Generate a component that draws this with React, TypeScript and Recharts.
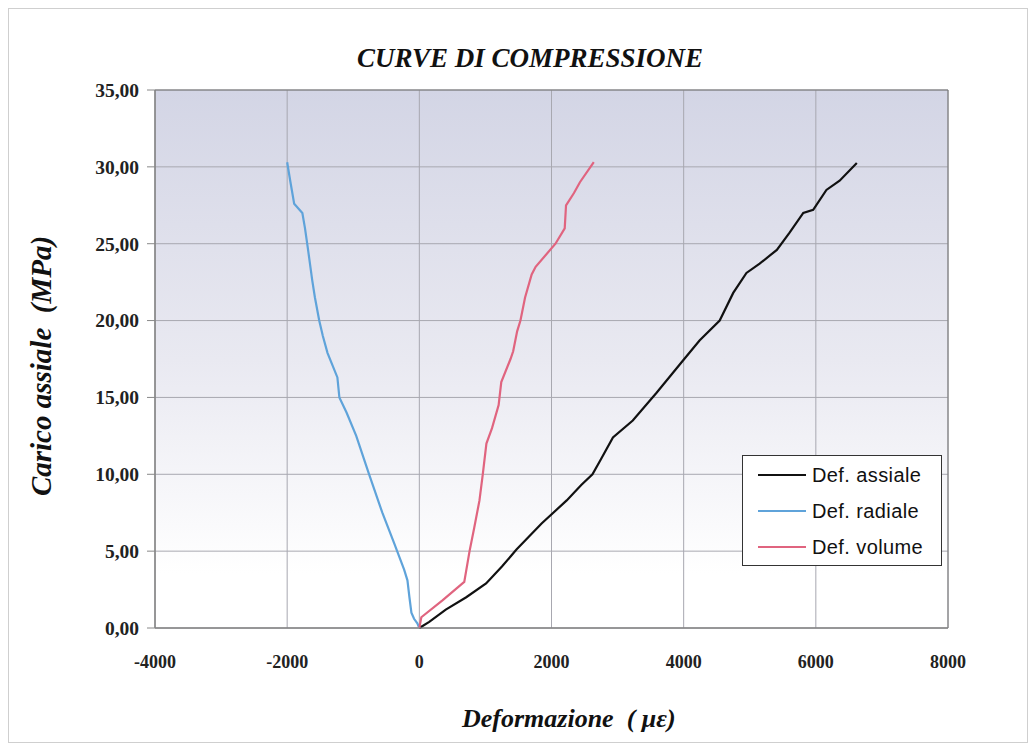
import React from 'react';
import { LineChart, Line, XAxis, YAxis, CartesianGrid, ReferenceArea } from 'recharts';

const axialStrain = [0, 150, 400, 710, 1010, 1250, 1470, 1850, 2230, 2450, 2620, 2750, 2930, 3230, 3590, 3990, 4240, 4545, 4750, 4950, 5150, 5410, 5600, 5810, 5960, 6160, 6360, 6620];
const axialLoad = [0, 0.4, 1.2, 2.0, 2.9, 4.0, 5.1, 6.8, 8.3, 9.3, 10.0, 11.0, 12.4, 13.5, 15.3, 17.4, 18.7, 20.0, 21.8, 23.1, 23.7, 24.6, 25.7, 27.0, 27.2, 28.5, 29.1, 30.25];

const radialStrain = [0, -30, -80, -120, -150, -180, -230, -300, -380, -560, -760, -955, -1100, -1210, -1240, -1390, -1460, -1515, -1580, -1620, -1690, -1730, -1770, -1894, -1950, -2000];
const radialLoad = [0, 0.3, 0.6, 1.0, 2.0, 3.1, 3.8, 4.6, 5.5, 7.5, 10.0, 12.5, 14.0, 15.0, 16.3, 17.9, 19.0, 20.0, 21.5, 22.6, 24.8, 26.0, 27.0, 27.6, 29.0, 30.3];

const volumeStrain = [0, 30, 350, 680, 760, 830, 910, 960, 1015, 1100, 1200, 1240, 1380, 1420, 1480, 1530, 1600, 1700, 1760, 2060, 2200, 2220, 2340, 2430, 2640];
const volumeLoad = [0, 0.7, 1.8, 3.0, 5.0, 6.5, 8.3, 10.0, 12.0, 13.0, 14.5, 16.0, 17.5, 18.0, 19.3, 20.0, 21.5, 23.0, 23.5, 25.0, 26.0, 27.5, 28.3, 29.0, 30.3];

const xTicks = [-4000, -2000, 0, 2000, 4000, 6000, 8000];
const yTicks = [0, 5, 10, 15, 20, 25, 30, 35];

const seriesNames = ['Def. assiale', 'Def. radiale', 'Def. volume'];
const seriesColors = ['#111111', '#5fa3da', '#e0647f'];

const zip = (xs: number[], ys: number[]) => xs.map((x, i) => ({ x, y: ys[i] }));
const axialData = zip(axialStrain, axialLoad);
const radialData = zip(radialStrain, radialLoad);
const volumeData = zip(volumeStrain, volumeLoad);

const serif = '"Liberation Serif", "Times New Roman", serif';

const LegendBox = () => (
  <div style={{ position: 'absolute', left: 733, top: 446, width: 200, height: 111, boxSizing: 'border-box', border: '1px solid #333', background: '#fff', paddingTop: 1, fontFamily: '"Liberation Sans", Arial, sans-serif', fontSize: 20, letterSpacing: 0.4, color: '#111' }}>
    {seriesNames.map((n, i) => (
      <div key={n} style={{ display: 'flex', alignItems: 'center', height: 36 }}>
        <div style={{ width: 48, height: 2, background: seriesColors[i], marginLeft: 15, marginRight: 6 }} />
        <span>{n}</span>
      </div>
    ))}
  </div>
);

export default function App() {
  return (
    <div style={{ position: 'relative', width: 1020, height: 735, border: '1px solid #cfcfcf', boxSizing: 'border-box', background: '#fff' }}>
      <svg width={0} height={0} style={{ position: 'absolute' }}>
        <defs>
          <linearGradient id="plotBg" x1="0" y1="0" x2="0" y2="1">
            <stop offset="0%" stopColor="#d3d5e5" />
            <stop offset="50%" stopColor="#e9e9f1" />
            <stop offset="90%" stopColor="#ffffff" />
          </linearGradient>
        </defs>
      </svg>
      <div style={{ position: 'absolute', left: 0, width: 1042, top: 34, textAlign: 'center', fontFamily: serif, fontWeight: 'bold', fontStyle: 'italic', fontSize: 27, color: '#111' }}>
        CURVE DI COMPRESSIONE
      </div>
      <div style={{ position: 'absolute', left: 32, top: 357, transform: 'translate(-50%, -50%) rotate(-90deg)', whiteSpace: 'pre', fontFamily: serif, fontWeight: 'bold', fontStyle: 'italic', fontSize: 29, color: '#111' }}>
        {'Carico assiale  (MPa)'}
      </div>
      <div style={{ position: 'absolute', left: 453, top: 695, whiteSpace: 'pre', fontFamily: serif, fontWeight: 'bold', fontStyle: 'italic', fontSize: 26, color: '#111' }}>
        {'Deformazione  ( \u03bc\u03b5)'}
      </div>
      <LineChart width={1018} height={733} margin={{ top: 81, right: 79, left: 76, bottom: 84 }} style={{ position: 'absolute', left: 0, top: 0 }}>
        <CartesianGrid stroke="#a8a8b0" strokeWidth={1} fill="url(#plotBg)" fillOpacity={1} horizontalValues={yTicks} verticalValues={xTicks} />
        <XAxis type="number" dataKey="x" domain={[-4000, 8000]} ticks={xTicks} allowDataOverflow height={30}
          axisLine={{ stroke: '#888' }} tickLine={false} tickMargin={21}
          tick={{ fill: '#222', fontFamily: serif, fontSize: 18, fontWeight: 'bold' }} />
        <YAxis type="number" dataKey="y" domain={[0, 35]} ticks={yTicks} width={70}
          axisLine={{ stroke: '#888' }} tickLine={{ stroke: '#888' }} tickSize={8} tickMargin={8}
          tickFormatter={(v: number) => v.toFixed(2).replace('.', ',')}
          tick={{ fill: '#222', fontFamily: serif, fontSize: 19.5, fontWeight: 'bold' }} />
        <ReferenceArea x1={-4000} x2={8000} y1={0} y2={35} fill="none" stroke="#777" strokeWidth={1} ifOverflow="visible" />
        <Line data={axialData} dataKey="y" name={seriesNames[0]} stroke={seriesColors[0]} strokeWidth={2.2} dot={false} isAnimationActive={false} />
        <Line data={radialData} dataKey="y" name={seriesNames[1]} stroke={seriesColors[1]} strokeWidth={2.2} dot={false} isAnimationActive={false} />
        <Line data={volumeData} dataKey="y" name={seriesNames[2]} stroke={seriesColors[2]} strokeWidth={2.2} dot={false} isAnimationActive={false} />
      </LineChart>
      <LegendBox />
    </div>
  );
}
